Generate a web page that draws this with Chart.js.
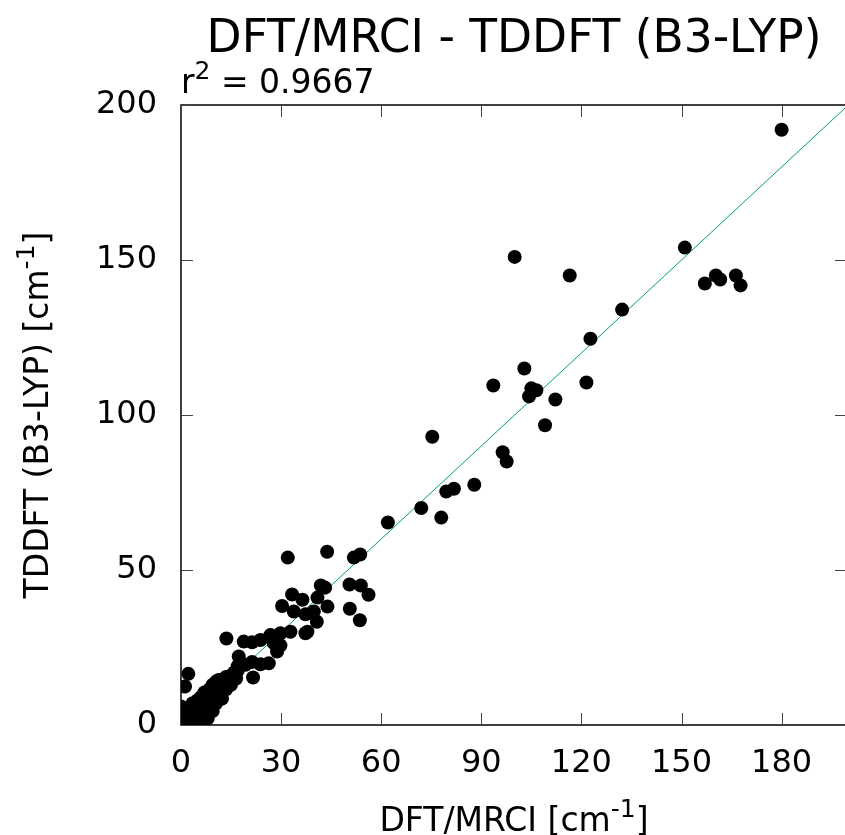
<!DOCTYPE html>
<html><head><meta charset="utf-8">
<script src="https://cdn.jsdelivr.net/npm/chart.js@4/dist/chart.umd.min.js"></script>
<style>html,body{margin:0;padding:0;background:#fff}canvas{display:block}</style>
</head><body>
<canvas id="c" width="845" height="835"></canvas>
<script>
const titleText = "DFT/MRCI - TDDFT (B3-LYP)";
const r2Value = "0.9667";
const xLabelText = "DFT/MRCI [cm";
const yLabelText = "TDDFT (B3-LYP) [cm";
const xTicks = [0, 30, 60, 90, 120, 150, 180];
const yTicks = [0, 50, 100, 150, 200];
const fitX = [0, 200];
const fitY = [0, 200];

// DFT/MRCI values (x)
const mrci = [
  180, 151, 100, 116.5, 157, 160.3, 161.6, 166.3, 167.7, 132.2,
  122.7, 102.9, 93.6, 121.5, 105, 106.5, 104.3, 112.2, 109.1, 75.3,
  96.4, 97.6, 87.9, 81.8, 79.5, 78, 72, 62, 32, 43.8,
  51.8, 53.7, 50.5, 53.9, 41.9, 43.2, 56.2, 50.6, 53.6, 33.3,
  36.4, 40.9, 43.9, 30.3, 33.8, 37.3, 39.8, 40.7, 37.9, 32.8,
  29.8, 37.3, 13.6, 18.8, 21.3, 23.8, 26.8, 27.8, 28.8, 17.3,
  21.3, 23.8, 26.3, 19.3, 21.6, 2.2, 1.2, 29.8,
  0, 0.8, 1.5, 0.3, 2, 3, 4.5, 5.5, 1, 2.5,
  3.8, 5, 6.5, 7.5, 1.2, 2.8, 4, 5.5, 6.5, 8,
  9, 10.5, 3.5, 5, 6, 7.5, 8.5, 10, 11.5, 7,
  8.5, 10, 11, 12.5, 13.5, 10.5, 12, 13, 14.5, 15,
  16, 13.5, 9.5, 4, 17,
  16.5, 15, 12.3, 9.5, 8, 17, 11.3, 7.4, 1.5, 0,
  0, 6
];
// TDDFT (B3-LYP) values (y)
const tddft = [
  192, 154, 151, 145, 142.4, 145, 143.7, 145, 141.8, 134,
  124.6, 115, 109.5, 110.5, 108.6, 108, 106, 105, 96.7, 93,
  88, 85, 77.5, 76.2, 75.3, 66.9, 70, 65.3, 54, 55.9,
  54, 55, 45.3, 45, 45, 44.3, 42, 37.5, 33.8, 42.1,
  40.4, 41.1, 38.2, 38.4, 36.6, 35.7, 36.6, 33.3, 30.1, 30.1,
  29.6, 29.6, 27.9, 26.9, 26.7, 27.4, 29, 26.4, 23.7, 22.1,
  20.3, 19.6, 19.9, 19.4, 15.3, 16.5, 12.4, 25.7,
  0, 0.5, 0, 1.8, 1.5, 0.5, 0.3, 1, 3.5, 3,
  2.2, 3, 2.5, 3.8, 5, 5.5, 4.5, 5, 6, 5.5,
  6.5, 7, 7, 8, 9, 8, 9.5, 9, 9.5, 10.5,
  11.5, 12, 11, 12, 11.5, 14, 14.5, 13.5, 14, 16,
  17, 15.5, 13, 6, 19,
  15, 13, 8.5, 4.5, 2.2, 17.5, 14.5, 10.2, 4.5, 3,
  6, 0
];

const points = mrci.map((v, i) => ({ x: v, y: tddft[i] }));
const linePts = fitX.map((v, i) => ({ x: v, y: fitY[i] }));

const FONT = "'DejaVu Sans', sans-serif";

function drawPieces(ctx, pieces, x, y, align) {
  let total = 0;
  pieces.forEach(p => { ctx.font = p.size + "px " + FONT; p.w = ctx.measureText(p.t).width; total += p.w; });
  let cx = align === 'center' ? x - total / 2 : x;
  ctx.textAlign = 'left';
  ctx.textBaseline = 'alphabetic';
  pieces.forEach(p => { ctx.font = p.size + "px " + FONT; ctx.fillText(p.t, cx, y + (p.dy || 0)); cx += p.w; });
}

const framePlugin = {
  id: 'frame',
  beforeDatasetsDraw(chart) {
    const { ctx, chartArea: a } = chart;
    ctx.save();
    ctx.strokeStyle = '#000';
    ctx.lineWidth = 1.5;
    ctx.beginPath();
    ctx.moveTo(a.right + 4, a.top);
    ctx.lineTo(a.left, a.top);
    ctx.lineTo(a.left, a.bottom);
    ctx.lineTo(a.right + 4, a.bottom);
    ctx.stroke();
    ctx.strokeStyle = '#444';
    ctx.lineWidth = 1;
    const xs = chart.scales.x, ys = chart.scales.y;
    const L = 12;
    xs.ticks.forEach(t => {
      const px = Math.round(xs.getPixelForValue(t.value)) + 0.5;
      ctx.beginPath();
      ctx.moveTo(px, a.bottom); ctx.lineTo(px, a.bottom - L);
      ctx.moveTo(px, a.top); ctx.lineTo(px, a.top + L);
      ctx.stroke();
    });
    ys.ticks.forEach(t => {
      const py = Math.round(ys.getPixelForValue(t.value)) + 0.5;
      ctx.beginPath();
      ctx.moveTo(a.left, py); ctx.lineTo(a.left + L, py);
      ctx.moveTo(a.right + 2, py); ctx.lineTo(a.right + 2 - L, py);
      ctx.stroke();
    });
    ctx.restore();
  },
  afterDraw(chart) {
    const { ctx, chartArea: a } = chart;
    ctx.save();
    ctx.fillStyle = '#000';
    const cx = 514;
    drawPieces(ctx, [{ t: titleText, size: 45.5 }], cx, 52, 'center');
    drawPieces(ctx, [{ t: 'r', size: 33 }, { t: '2', size: 25, dy: -14 }, { t: ' = ' + r2Value, size: 33 }], a.left, 93, 'left');
    drawPieces(ctx, [{ t: xLabelText, size: 33 }, { t: '-1', size: 25, dy: -14 }, { t: ']', size: 33 }], cx, 831, 'center');
    ctx.translate(48, (a.top + a.bottom) / 2);
    ctx.rotate(-Math.PI / 2);
    drawPieces(ctx, [{ t: yLabelText, size: 33 }, { t: '-1', size: 25, dy: -14 }, { t: ']', size: 33 }], 0, 0, 'center');
    ctx.restore();
  }
};

new Chart(document.getElementById('c'), {
  type: 'scatter',
  data: {
    datasets: [
      { type: 'scatter', data: points, pointRadius: 7, pointHoverRadius: 7, backgroundColor: '#000', borderWidth: 0, order: 0 },
      { type: 'line', data: linePts, borderColor: '#009e73', borderWidth: 1, pointRadius: 0, fill: false, order: 1 }
    ]
  },
  options: {
    responsive: false,
    animation: false,
    events: [],
    layout: { autoPadding: false, padding: { top: 105, right: 0, left: 0, bottom: 0 } },
    plugins: { legend: { display: false }, tooltip: { enabled: false }, title: { display: false } },
    scales: {
      x: {
        type: 'linear', min: 0, max: 199,
        afterBuildTicks: s => { s.ticks = xTicks.map(v => ({ value: v })); },
        afterFit: s => { s.height = 110; s.paddingLeft = 0; s.paddingRight = 0; },
        grid: { display: false, drawTicks: false },
        border: { display: false },
        ticks: { font: { family: FONT, size: 32 }, color: '#000', padding: 19, autoSkip: false, maxRotation: 0 }
      },
      y: {
        type: 'linear', min: 0, max: 200,
        afterBuildTicks: s => { s.ticks = yTicks.map(v => ({ value: v })); },
        afterFit: s => { s.width = 181; s.paddingTop = 0; s.paddingBottom = 0; },
        grid: { display: false, drawTicks: false },
        border: { display: false },
        ticks: { font: { family: FONT, size: 32 }, color: '#000', padding: 24, autoSkip: false }
      }
    }
  },
  plugins: [framePlugin]
});
</script>
</body></html>
